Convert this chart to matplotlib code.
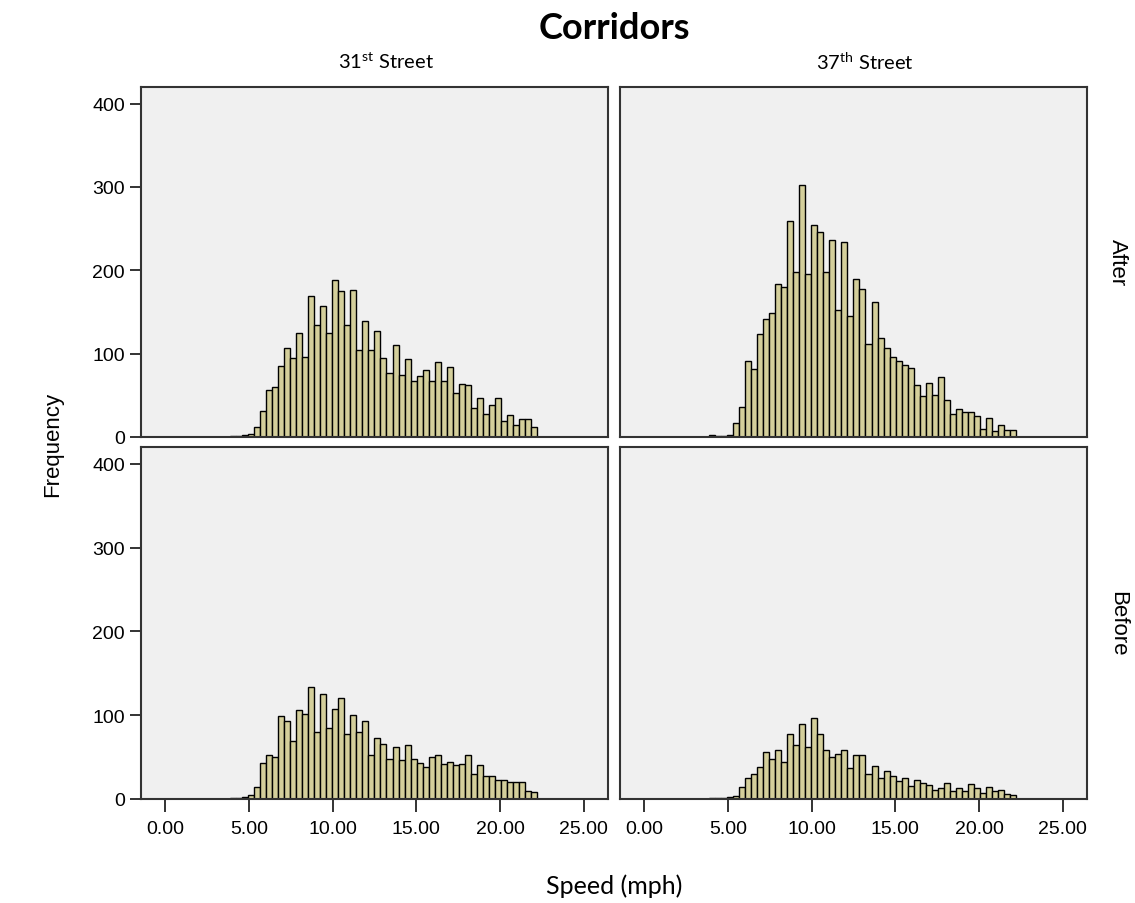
import matplotlib

matplotlib.use("Agg")

import matplotlib.pyplot as plt
import numpy as np

# histogram counts per speed bin (51 bins of ~0.36 mph starting at 3.86 mph)
BIN_START = 3.86
BIN_WIDTH = 0.36

AFTER_31ST = [1, 1, 2, 4, 12, 31, 57, 60, 85, 107, 95, 125, 96, 169, 135, 157, 125,
              188, 175, 134, 177, 105, 139, 105, 127, 95, 77, 111, 75, 94, 67, 73, 80,
              67, 90, 67, 84, 53, 64, 63, 35, 47, 28, 38, 47, 19, 26, 14, 22, 22, 12]
AFTER_37TH = [2, 1, 1, 2, 17, 36, 91, 82, 124, 142, 149, 184, 180, 259, 198, 303, 196,
              254, 246, 198, 236, 152, 234, 145, 190, 178, 112, 162, 119, 107, 96, 91, 86,
              83, 63, 49, 65, 50, 72, 45, 28, 34, 30, 30, 25, 10, 23, 7, 15, 9, 9]
BEFORE_31ST = [1, 1, 2, 5, 14, 43, 53, 50, 99, 93, 69, 106, 101, 134, 80, 125, 85,
               107, 120, 78, 100, 80, 93, 52, 73, 66, 48, 62, 46, 65, 48, 43, 38,
               50, 53, 42, 44, 41, 42, 52, 30, 41, 28, 27, 23, 23, 20, 20, 20, 10, 8]
BEFORE_37TH = [1, 1, 1, 2, 4, 14, 25, 30, 38, 56, 48, 59, 44, 77, 64, 90, 62,
               97, 78, 59, 50, 54, 59, 37, 52, 52, 30, 39, 25, 33, 27, 21, 25,
               15, 23, 19, 17, 11, 13, 19, 10, 13, 9, 18, 13, 7, 14, 9, 11, 6, 5]

COLUMN_LABELS = ["31$^{\\mathrm{st}}$ Street", "37$^{\\mathrm{th}}$ Street"]
ROW_LABELS = ["After", "Before"]
X_TICKS = [0, 5, 10, 15, 20, 25]
Y_TICKS = [0, 100, 200, 300, 400]

HUMANIST = "Lato"
plt.rcParams["font.family"] = ["Liberation Sans", "DejaVu Sans"]
plt.rcParams["mathtext.fontset"] = "custom"
plt.rcParams["mathtext.rm"] = HUMANIST

BAR_COLOR = "#d4cf9b"
PANEL_BG = "#f0f0f0"
FRAME = "#333333"

fig = plt.figure(figsize=(11.35, 9.04), dpi=100)

lefts = [141 / 1135, 620 / 1135]
width = 467 / 1135
bottoms = [1 - 438 / 904, 1 - 800 / 904]
heights = [350 / 904, 352 / 904]

grid = [[AFTER_31ST, AFTER_37TH], [BEFORE_31ST, BEFORE_37TH]]

for r in range(2):
    for c in range(2):
        ax = fig.add_axes([lefts[c], bottoms[r], width, heights[r]])
        counts = np.array(grid[r][c])
        edges = BIN_START + BIN_WIDTH * np.arange(len(counts))
        ax.bar(edges, counts, width=BIN_WIDTH, align="edge", color=BAR_COLOR,
               edgecolor="black", linewidth=1.0)
        ax.set_facecolor(PANEL_BG)
        ax.set_xlim(-1.44, 26.45)
        ax.set_ylim(0, 420)
        for s in ax.spines.values():
            s.set_color(FRAME)
            s.set_linewidth(1.5)
        ax.tick_params(length=8, width=1.4, color=FRAME, labelsize=14)
        ax.tick_params(axis="x", length=9, pad=6)
        if c == 0:
            ax.set_yticks(Y_TICKS)
        else:
            ax.set_yticks([])
        if r == 1:
            ax.set_xticks(X_TICKS)
            ax.set_xticklabels([f"{v:.2f}" for v in X_TICKS])
        else:
            ax.set_xticks([])
        if r == 0:
            ax.text(0.525, 1.075, COLUMN_LABELS[c], transform=ax.transAxes,
                    ha="center", va="center", fontsize=14.5, family=HUMANIST)
        if c == 1:
            ax.text(1.065, 0.5, ROW_LABELS[r], transform=ax.transAxes, rotation=270,
                    ha="center", va="center", fontsize=16)

fig.text(0.541, 0.968, "Corridors", ha="center", va="center", fontsize=26,
         fontweight="bold", family=HUMANIST)
fig.text(0.541, 0.02, "Speed (mph)", ha="center", va="center", fontsize=18,
         family=HUMANIST)
fig.text(0.046, 0.508, "Frequency", rotation=90, ha="center", va="center", fontsize=16)

fig.savefig("out.png", dpi=100)
